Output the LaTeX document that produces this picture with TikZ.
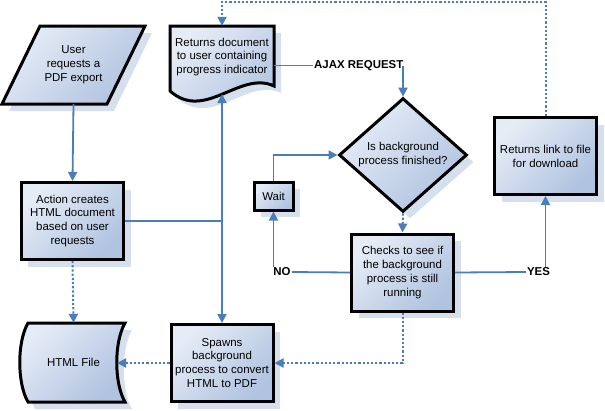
\documentclass[tikz,border=0pt]{standalone}
\usepackage{fontspec}
\setmainfont{Liberation Sans}
\usetikzlibrary{arrows.meta,positioning,calc,shapes.geometric,shadows}

\definecolor{flowline}{RGB}{74,126,187}
\definecolor{boxlight}{RGB}{230,236,246}
\definecolor{boxdark}{RGB}{176,195,224}
\definecolor{boxshadow}{RGB}{214,223,237}

\begin{document}
\begin{tikzpicture}[
  x=1bp, y=-1bp,
  font=\fontsize{11.5}{14}\selectfont,
  shp/.style  = {draw=black, line width=3bp, top color=boxlight, bottom color=boxdark,
                 shading angle=45,
                 drop shadow={shadow xshift=7bp, shadow yshift=-7bp, fill=boxshadow, opacity=1}},
  blk/.style  = {shp, rectangle, align=center, inner sep=2pt,
                 minimum width=102bp, minimum height=77bp},
  txt/.style  = {align=center, inner sep=0pt},
  lbl/.style  = {font=\fontsize{11.5}{13}\selectfont\bfseries, inner sep=1pt},
  ln/.style   = {flowline, line width=1.8bp},
  ar/.style   = {ln, -{Triangle[length=9bp,width=9bp]}},
  dar/.style  = {ar, line width=2bp, dash pattern=on 2.2bp off 2bp},
]
\useasboundingbox (0,0) rectangle (605,410);

% =========================== left column ===================================
% input parallelogram
\path[shp] (40,26) -- (145,26) -- (107,104) -- (2,104) -- cycle;
\node[txt, minimum width=104bp, minimum height=78bp] (usr) at (73.5,65)
  {User\\requests a\\PDF export};

\node[blk] (act) at (72.5,221) {Action creates\\HTML document\\based on user\\requests};

% stored data shape
\path[shp] (28,323) -- (125,323) .. controls (114,342) and (114,383) .. (125,402)
  -- (28,402) .. controls (17,383) and (17,342) .. (28,323) -- cycle;
\node[txt, minimum width=97bp, minimum height=79bp] (html) at (73.5,362.5) {HTML File};
\coordinate (htmlR) at (117,363);

% =========================== middle column =================================
% document shape with wavy bottom
\path[shp] (170,26) -- (274,26) -- (274,86) .. controls (240,70) and (205,122) .. (170,91)
  -- cycle;
\node[txt, minimum width=104bp, minimum height=62bp] (doc) at (222,57)
  {Returns document\\to user containing\\progress indicator};
\coordinate (docB) at (222,94);

\node[blk] (spawn) at (222,363) {Spawns\\background\\process to convert\\HTML to PDF};

% =========================== polling loop ==================================
\node[lbl, anchor=west] (ajax) at (313,65.5) {AJAX REQUEST};

\node[shp, diamond, minimum width=128bp, minimum height=94bp, inner sep=0pt,
      align=center] (dia) at (403,155) {Is background\\process finished?};

\node[blk, minimum width=39bp, minimum height=28bp] (wait) at (273.5,196) {Wait};

\node[blk] (chk) at (402.5,272.5) {Checks to see if\\the background\\process is still\\running};

\node[blk] (link) at (545.5,156) {Returns link to file\\for download};

\node[lbl] (no)  at (282,272)   {NO};
\node[lbl] (yes) at (538.5,272) {YES};

% =========================== connectors ====================================
\coordinate (topline) at (0,1.5);

\draw[ar]  (usr.south) -- (act.north);
\draw[dar] (act.south) -- (html.north);
\draw[ar]  (act.east) -| (spawn.north);
\draw[ar]  (act.east -| spawn.north) -- (docB);
\draw[dar] (spawn.west) -- (htmlR);

\draw[dar] (link.north) -- (link.north |- topline) -| (doc.north);
\draw[ln]  (doc.east |- ajax.west) -- (ajax.west);
\draw[ar]  (dia.north |- ajax.east) -- (dia.north);

\draw[ar]  (wait.north) |- (dia.west);
\draw[dar] (dia.south) -- (chk.north);
\draw[ln]  (chk.west) -- (no.east);
\draw[ar]  (wait.south |- no.north) -- (wait.south);
\draw[ln]  (chk.east) -- (yes.west);
\draw[ar]  (link.south |- yes.north) -- (link.south);
\draw[dar] (chk.south) |- (spawn.east);

\end{tikzpicture}
\end{document}
